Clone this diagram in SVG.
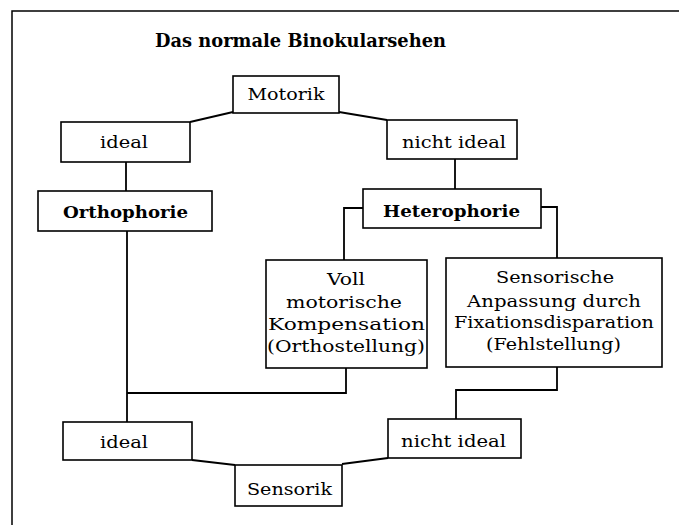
<svg xmlns="http://www.w3.org/2000/svg" width="679" height="525" viewBox="0 0 679 525">
<style>
.box{fill:#fff;stroke:#000;stroke-width:1.6}
.con{fill:none;stroke:#000;stroke-width:1.8}
.frame{fill:none;stroke:#000;stroke-width:1.5}
.t{font-family:"DejaVu Serif","Liberation Serif",serif;font-size:17px;fill:#000;text-anchor:middle}
.b{font-weight:bold}
.title{font-family:"DejaVu Serif","Liberation Serif",serif;font-size:19px;font-weight:bold;fill:#000}
</style>
<rect width="679" height="525" fill="#fff"/>
<path class="frame" d="M12 525 V11 H679"/>
<text class="title" x="155" y="47" textLength="291" lengthAdjust="spacingAndGlyphs">Das normale Binokularsehen</text>
<g id="connectors">
<path class="con" d="M233 112 L190 122"/>
<path class="con" d="M339 112 L387 120"/>
<path class="con" d="M126 162 V191"/>
<path class="con" d="M127 231 V422"/>
<path class="con" d="M455 159 V189"/>
<path class="con" d="M363 208 H344 V260"/>
<path class="con" d="M541 207 H557 V258"/>
<path class="con" d="M346 368 V393 H127"/>
<path class="con" d="M557 367 V390 H456 V419"/>
<path class="con" d="M192 460 L235 465"/>
<path class="con" d="M388 458 L342 464"/>
</g>
<g id="motorik">
<rect class="box" x="233" y="76" width="106" height="37"/>
<text class="t" x="286" y="100" textLength="77" lengthAdjust="spacingAndGlyphs">Motorik</text>
</g>
<g id="ideal-top">
<rect class="box" x="61" y="122" width="129" height="40"/>
<text class="t" x="124" y="148" textLength="48" lengthAdjust="spacingAndGlyphs">ideal</text>
</g>
<g id="nichtideal-top">
<rect class="box" x="387" y="120" width="130" height="39"/>
<text class="t" x="454" y="148" textLength="104" lengthAdjust="spacingAndGlyphs">nicht ideal</text>
</g>
<g id="orthophorie">
<rect class="box" x="38" y="191" width="174" height="40"/>
<text class="t b" x="125.5" y="218" textLength="125" lengthAdjust="spacingAndGlyphs">Orthophorie</text>
</g>
<g id="heterophorie">
<rect class="box" x="363" y="189" width="178" height="39"/>
<text class="t b" x="451.5" y="217" textLength="137" lengthAdjust="spacingAndGlyphs">Heterophorie</text>
</g>
<g id="voll">
<rect class="box" x="266" y="260" width="161" height="108"/>
<text class="t" x="346" y="285" textLength="38" lengthAdjust="spacingAndGlyphs">Voll</text>
<text class="t" x="344" y="308" textLength="116" lengthAdjust="spacingAndGlyphs">motorische</text>
<text class="t" x="346.5" y="330" textLength="157" lengthAdjust="spacingAndGlyphs">Kompensation</text>
<text class="t" x="346" y="352" textLength="158" lengthAdjust="spacingAndGlyphs">(Orthostellung)</text>
</g>
<g id="sensorische">
<rect class="box" x="446" y="258" width="216" height="109"/>
<text class="t" x="555" y="283" textLength="118" lengthAdjust="spacingAndGlyphs">Sensorische</text>
<text class="t" x="554" y="307" textLength="174" lengthAdjust="spacingAndGlyphs">Anpassung durch</text>
<text class="t" x="554" y="328" textLength="200" lengthAdjust="spacingAndGlyphs">Fixationsdisparation</text>
<text class="t" x="553.5" y="350" textLength="135" lengthAdjust="spacingAndGlyphs">(Fehlstellung)</text>
</g>
<g id="ideal-bottom">
<rect class="box" x="63" y="422" width="129" height="38"/>
<text class="t" x="124" y="448" textLength="48" lengthAdjust="spacingAndGlyphs">ideal</text>
</g>
<g id="nichtideal-bottom">
<rect class="box" x="388" y="419" width="133" height="39"/>
<text class="t" x="453.5" y="447" textLength="105" lengthAdjust="spacingAndGlyphs">nicht ideal</text>
</g>
<g id="sensorik">
<rect class="box" x="235" y="465" width="107" height="41"/>
<text class="t" x="289.5" y="495" textLength="85" lengthAdjust="spacingAndGlyphs">Sensorik</text>
</g>
</svg>
